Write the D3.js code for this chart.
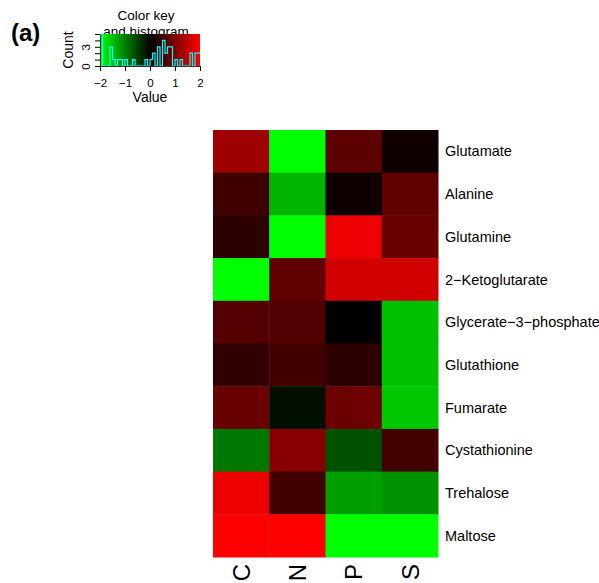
<!DOCTYPE html>
<html lang="en">
<head>
    <meta charset="UTF-8">
    <title>Heatmap (a)</title>
    <script src="https://d3js.org/d3.v7.min.js"></script>
    <style>
        body { margin: 0; background: white; }
        svg { display: block; font-family: "Liberation Sans", Arial, Helvetica, sans-serif; }
    </style>
</head>
<body>
    <svg width="599" height="583"></svg>
    <script>
        // rows (metabolites) and columns (conditions)
        const rows = ["Glutamate", "Alanine", "Glutamine", "2\u2212Ketoglutarate", "Glycerate\u22123\u2212phosphate",
                      "Glutathione", "Fumarate", "Cystathionine", "Trehalose", "Maltose"];
        const columns = ["C", "N", "P", "S"];

        // one array of values per column, top row first
        const valuesC = [1.25, 0.5, 0.35, -2, 0.67, 0.38, 0.82, -0.94, 1.86, 2];
        const valuesN = [-2, -1.42, -2, 0.75, 0.63, 0.5, -0.12, 1.07, 0.5, 2];
        const valuesP = [0.73, 0.12, 1.86, 1.63, 0, 0.35, 0.85, -0.64, -1.25, -2];
        const valuesS = [0.13, 0.75, 0.82, 1.63, -1.51, -1.51, -1.57, 0.53, -1.14, -2];

        // colour key
        const keyTicks = [-2, -1, 0, 1, 2];
        const countLabels = [0, 3];
        const nBreaks = 41;

        const columnValues = [valuesC, valuesN, valuesP, valuesS];
        const cells = [];
        rows.forEach((r, i) => {
            columns.forEach((c, j) => {
                cells.push({ row: r, col: c, value: columnValues[j][i] });
            });
        });

        const svg = d3.select("svg");

        // colours: green - black - red
        const color = d3.scaleLinear()
            .domain([-2, 0, 2])
            .range(["#00ff00", "#000000", "#ff0000"])
            .clamp(true);

        // ---- heatmap ----
        const x = d3.scaleBand().domain(columns).range([213, 438]);
        const y = d3.scaleBand().domain(rows).range([130, 557]);

        svg.append("g")
            .selectAll("rect")
            .data(cells)
            .join("rect")
            .attr("x", d => x(d.col))
            .attr("y", d => y(d.row))
            .attr("width", x.bandwidth() + 0.5)
            .attr("height", y.bandwidth() + 0.5)
            .attr("fill", d => color(d.value));

        // row labels
        svg.append("g")
            .selectAll("text")
            .data(rows)
            .join("text")
            .attr("x", 445)
            .attr("y", d => y(d) + y.bandwidth() / 2)
            .attr("dy", "0.35em")
            .attr("font-size", 14.5)
            .attr("fill", "#000")
            .text(d => d);

        // column labels, rotated
        svg.append("g")
            .selectAll("text")
            .data(columns)
            .join("text")
            .attr("transform", d => `translate(${x(d) + x.bandwidth() / 2},564) rotate(-90)`)
            .attr("text-anchor", "end")
            .attr("dy", "0.36em")
            .attr("font-size", 24)
            .attr("fill", "#000")
            .text(d => d);

        // ---- colour key and histogram ----
        const kx = d3.scaleLinear().domain([-2, 2]).range([100, 200]);
        const breaks = d3.range(nBreaks).map(i => -2 + 4 * i / (nBreaks - 1));

        // title first, the key image covers its bottom
        svg.append("text")
            .attr("x", 146).attr("y", 20)
            .attr("text-anchor", "middle")
            .attr("font-size", 13.5)
            .text("Color key");
        svg.append("text")
            .attr("x", 146).attr("y", 36)
            .attr("text-anchor", "middle")
            .attr("font-size", 13.5)
            .text("and histogram");

        const keyTop = 34, keyBottom = 66;
        const grad = svg.append("defs").append("linearGradient")
            .attr("id", "keygrad");
        grad.selectAll("stop")
            .data([-2, 0, 2])
            .join("stop")
            .attr("offset", d => (d + 2) / 4)
            .attr("stop-color", d => color(d));
        svg.append("rect")
            .attr("x", kx(-2))
            .attr("y", keyTop)
            .attr("width", kx(2) - kx(-2))
            .attr("height", keyBottom - keyTop)
            .attr("fill", "url(#keygrad)");

        // histogram of all cell values
        const bins = d3.bin()
            .domain([-2, 2])
            .thresholds(breaks.slice(1, -1))(cells.map(d => d.value));
        const counts = bins.map(b => b.length);
        const maxCount = d3.max(counts);
        const ky = d3.scaleLinear().domain([0, maxCount]).range([keyBottom, keyTop]);

        const stepPts = breaks.map((b, i) => [b, counts[Math.min(i, counts.length - 1)]]);
        svg.append("path")
            .datum(stepPts)
            .attr("fill", "none")
            .attr("stroke", "#00ffff")
            .attr("stroke-width", 1.2)
            .attr("d", d3.line().x(d => kx(d[0])).y(d => ky(d[1])).curve(d3.curveStepAfter));

        // x axis of key
        const xAxis = svg.append("g")
            .attr("transform", `translate(0,${keyBottom})`)
            .call(d3.axisBottom(kx).tickValues(keyTicks).tickSize(5).tickPadding(8)
                .tickFormat(d => d3.format("d")(d).replace("-", "\u2212")));
        xAxis.selectAll("text").attr("font-size", 11.5).attr("font-family", null);
        xAxis.select(".domain").attr("stroke", "#333");

        svg.append("text")
            .attr("x", 150).attr("y", 102)
            .attr("text-anchor", "middle")
            .attr("font-size", 14)
            .text("Value");

        // y axis of key (counts)
        const yAxis = svg.append("g")
            .attr("transform", "translate(100,0)")
            .call(d3.axisLeft(ky).ticks(5).tickSize(5).tickSizeOuter(0)
                .tickFormat(d => countLabels.includes(d) ? d : ""));
        yAxis.select(".domain").attr("stroke", "#333");
        yAxis.selectAll("text")
            .attr("font-size", 11.5)
            .attr("font-family", null)
            .attr("text-anchor", "middle")
            .attr("x", null)
            .attr("dy", null)
            .attr("transform", "translate(-14,0) rotate(-90)")
            .attr("dominant-baseline", "central");

        svg.append("text")
            .attr("transform", "translate(68,50) rotate(-90)")
            .attr("text-anchor", "middle")
            .attr("dominant-baseline", "central")
            .attr("font-size", 14)
            .text("Count");

        // panel tag
        svg.append("text")
            .attr("x", 11).attr("y", 41)
            .attr("font-size", 24)
            .attr("font-weight", "bold")
            .text("(a)");
    </script>
</body>
</html>
